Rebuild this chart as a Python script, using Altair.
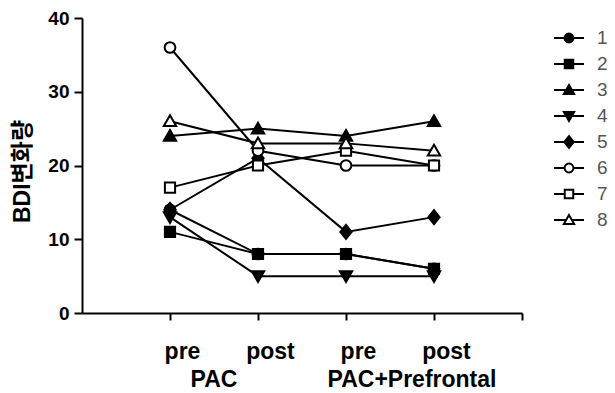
import json
import altair as alt
import pandas as pd

# ---- data ----
series = ["1", "2", "3", "4", "5", "6", "7", "8"]
time_points = [1, 2, 3, 4]
x_tick_labels = ["pre", "post", "pre", "post"]
group_names = ["PAC", "PAC+Prefrontal"]
group_centers = [1.5, 3.75]

s1 = [14, 8, 8, 6]
s2 = [11, 8, 8, 6]
s3 = [24, 25, 24, 26]
s4 = [13, 5, 5, 5]
s5 = [14, 21, 11, 13]
s6 = [36, 22, 20, 20]
s7 = [17, 20, 22, 20]
s8 = [26, 23, 23, 22]
all_values = [s1, s2, s3, s4, s5, s6, s7, s8]

rows = []
for name, vals in zip(series, all_values):
    for t, v in zip(time_points, vals):
        rows.append({"series": name, "time": t, "value": v})
df = pd.DataFrame(rows)
groups_df = pd.DataFrame({"name": group_names, "x": group_centers})
legend_df = pd.DataFrame({"series": series})

# ---- marker styles ----
circle = "M1,0A1,1,0,1,1,-1,0A1,1,0,1,1,1,0Z"
square = "M-0.95,-0.95H0.95V0.95H-0.95Z"
tri_up = "M0,-1.1L1.15,0.9H-1.15Z"
tri_dn = "M0,1.1L1.15,-0.9H-1.15Z"
diamond = "M0,-1.3L1.05,0L0,1.3L-1.05,0Z"
marker_paths = [circle, square, tri_up, tri_dn, diamond, circle, square, tri_up]
fills = ["black", "black", "black", "black", "black", "white", "white", "white"]

FONT = "Liberation Sans, Arial, Noto Sans CJK KR, sans-serif"

label_expr = json.dumps(x_tick_labels) + "[datum.value - 1] || ''"

x_enc = alt.X(
    "time:Q",
    scale=alt.Scale(domain=[0, 5], nice=False, zero=False),
    axis=alt.Axis(
        values=[1, 2, 3, 4, 5], labelExpr=label_expr, title=None,
        tickSize=7, labelPadding=38, labelBaseline="alphabetic",
        labelFontSize=23, labelOffset=12, labelFlush=False,
    ),
)
y_enc = alt.Y(
    "value:Q",
    scale=alt.Scale(domain=[0, 40], nice=False),
    axis=alt.Axis(
        values=[0, 10, 20, 30, 40], title="BDI변화량", tickSize=8,
        labelPadding=5, labelFontSize=19, titleFontSize=23,
        titleX=-60, titleY=153, titleBaseline="middle", titleAngle=270,
    ),
)
shape_enc = alt.Shape("series:N", scale=alt.Scale(domain=series, range=marker_paths), legend=None)
fill_enc = alt.Fill("series:N", scale=alt.Scale(domain=series, range=fills), legend=None)

lines = alt.Chart(df).mark_line(color="black", strokeWidth=2).encode(
    x=x_enc, y=y_enc, detail="series:N", order="time:Q"
)

points = alt.Chart(df).mark_point(
    filled=True, stroke="black", strokeWidth=2, opacity=1, size=115
).encode(x=x_enc, y=y_enc, shape=shape_enc, fill=fill_enc)

group_text = alt.Chart(groups_df).mark_text(
    fontSize=23, fontWeight="bold", font=FONT, baseline="alphabetic", align="center", color="black"
).encode(
    x=alt.X("x:Q", scale=alt.Scale(domain=[0, 5], nice=False)),
    y=alt.value(369),
    text="name:N",
)

main = alt.layer(lines, points, group_text)

# ---- hand-built legend (line stub + marker + label) ----
leg_y = alt.Y("series:N", scale=alt.Scale(type="point", domain=series, range=[20, 202], padding=0), axis=None)
leg_rule = alt.Chart(legend_df).mark_rule(color="black", strokeWidth=2).encode(
    y=leg_y, x=alt.value(472), x2=alt.value(502)
)
leg_pts = alt.Chart(legend_df).mark_point(
    filled=True, stroke="black", strokeWidth=2, opacity=1, size=80
).encode(y=leg_y, x=alt.value(487), shape=shape_enc, fill=fill_enc)
leg_txt = alt.Chart(legend_df).mark_text(
    align="left", baseline="middle", fontSize=19, font=FONT, color="#555555"
).encode(y=leg_y, x=alt.value(515), text="series:N")
legend = alt.layer(leg_rule, leg_pts, leg_txt)

chart = alt.layer(main, legend).resolve_scale(y="independent").properties(
    width=440, height=295,
    autosize=alt.AutoSizeParams(type="none"),
    padding={"left": 82, "top": 18, "right": 93, "bottom": 80},
).configure_view(stroke=None).configure_axis(
    grid=False, domainColor="black", domainWidth=2, tickColor="black", tickWidth=2,
    labelColor="black", titleColor="black", labelFont=FONT, titleFont=FONT,
    labelFontWeight="bold", titleFontWeight="bold",
)

chart.save("out.html", embed_options={"renderer": "svg", "actions": False})
